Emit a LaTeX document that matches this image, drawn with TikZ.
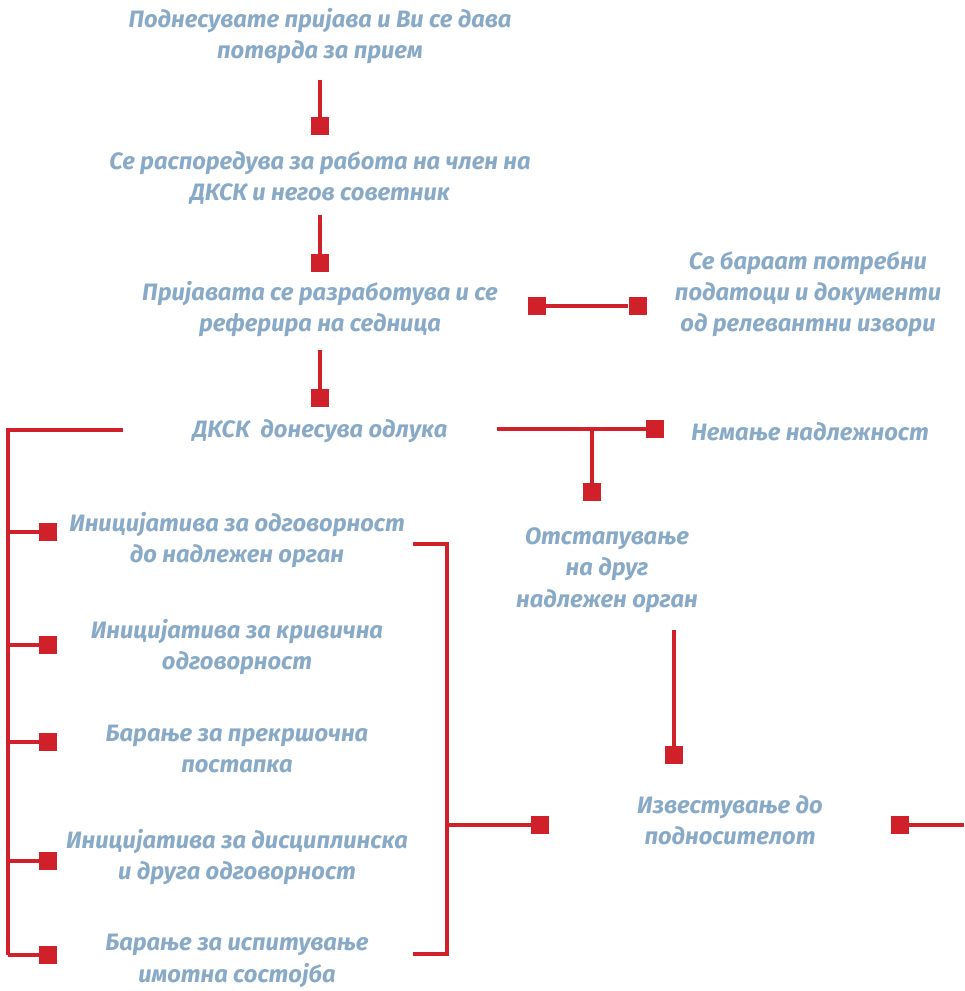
\documentclass[tikz,border=0pt]{standalone}
\usepackage{fontspec}
\setmainfont{Fira Sans}[Language=Macedonian]
\usetikzlibrary{positioning}
\definecolor{textblue}{RGB}{136,170,199}
\definecolor{markred}{RGB}{208,33,42}

\begin{document}
\begin{tikzpicture}[x=0.02cm,y=-0.02cm,
	txt/.style={text=textblue,font=\bfseries\itshape\fontsize{13.5}{17.8}\selectfont,align=center,inner sep=0pt},
	sq/.style={fill=markred,minimum size=0.36cm,inner sep=0pt},
	link/.style={draw=markred,line width=0.062cm}]
	\useasboundingbox (0,0) rectangle (964,991);
	% main column
	\node[txt] (submit) at (320,36) {Поднесувате пријава и Ви се дава\\потврда за прием};
	\node[sq] (s1) at (320,126) {};
	\node[txt] (assign) at (320,178) {Се распоредува за работа на член на\\ДКСК и негов советник};
	\node[sq] (s2) at (320,263) {};
	\node[txt] (study) at (320,309) {Пријавата се разработува и се\\реферира на седница};
	\node[sq] (s3) at (320,398) {};
	\node[txt] (decide) at (320,431) {ДКСК\ \ донесува одлука};
	% request for documents
	\node[sq] (s4) at (537,306) {};
	\node[sq] (s5) [right=1.64cm of s4] {};
	\node[txt] (docs) at (808,294) {Се бараат потребни\\податоци и документи\\од релевантни извори};
	% no competence / forward
	\node[sq] (s6) at (655,429) {};
	\node[txt] (nocomp) at (810,432) {Немање надлежност};
	\node[sq] (s7) at (592,492) {};
	\node[txt] (forward) at (607,570) {Отстапување\\на друг\\надлежен орган};
	\node[sq] (s8) at (674,755) {};
	\node[txt] (inform) at (730,820) {Известување до\\подносителот};
	\node[sq] (s9) at (540,825) {};
	\node[sq] (s10) at (900,825) {};
	% measures
	\node[sq] (m1) at (48,532) {};
	\node[sq] (m2) at (48,645) {};
	\node[sq] (m3) at (48,742) {};
	\node[sq] (m4) at (48,861) {};
	\node[sq] (m5) at (48,955) {};
	\node[txt] (resp) at (237,540) {Иницијатива за одговорност\\до надлежен орган};
	\node[txt] (crim) at (237,647) {Иницијатива за кривична\\одговорност};
	\node[txt] (misd) at (237,749) {Барање за прекршочна\\постапка};
	\node[txt] (disc) at (237,857) {Иницијатива за дисциплинска\\и друга одговорност};
	\node[txt] (prop) at (237,961) {Барање за испитување\\имотна состојба};
	% free ends
	\coordinate (decL) at (123,430);
	\coordinate (busT) at (8,430);
	\coordinate (busB) at (8,955);
	\coordinate (decR) at (497,429);
	\coordinate (fwdOut) at (674,630);
	\coordinate (brT1) at (413,544);
	\coordinate (brT2) at (447,544);
	\coordinate (brB1) at (413,954);
	\coordinate (brB2) at (447,954);
	\coordinate (infOut) at (964,825);

	\draw[link] (submit.south |- 0,80) -- (s1);
	\draw[link] (assign.south |- 0,215) -- (s2);
	\draw[link] (study.south |- 0,350) -- (s3);
	\draw[link] (s4) -- (s5);
	\draw[link] (decL) -- (busT) -- (busB);
	\foreach \m in {m1,m2,m3,m4,m5}
		\draw[link] (busT |- \m) -- (\m);
	\draw[link] (decR) -- (s6);
	\draw[link] (decR -| s7) -- (s7);
	\draw[link] (fwdOut) -- (s8);
	\draw[link] (brT1) -- (brT2) -- (brB2) -- (brB1);
	\draw[link] (brT2 |- s9) -- (s9);
	\draw[link] (s10) -- (infOut);
	\foreach \s in {s1,s2,s3,s4,s5,s6,s7,s8,s9,s10,m1,m2,m3,m4,m5}
		\node[sq] at (\s) {};
\end{tikzpicture}
\end{document}
